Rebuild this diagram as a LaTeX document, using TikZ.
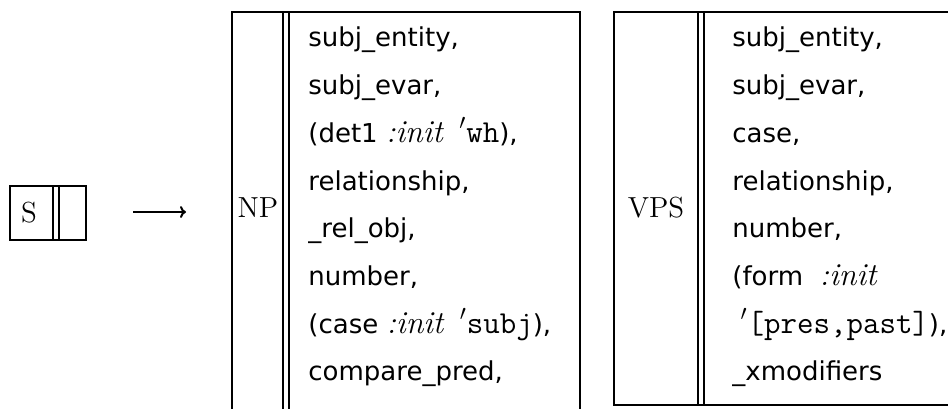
\documentclass[tikz,border=0pt]{standalone}
\usepackage{fontspec}
\newfontfamily\listfont{DejaVu Sans}
\usetikzlibrary{arrows.meta}

\tikzset{
  frame/.style={line width=1.1pt},
  slot/.style={line width=0.7pt},
  entry/.style={anchor=base west, inner sep=0pt, font=\listfont\fontsize{13}{15}\selectfont},
  boxname/.style={inner sep=0pt, font=\fontsize{14.5}{17}\selectfont},
}
\newcommand{\initkw}{{\rmfamily\itshape\fontsize{16}{18}\selectfont :init}}
\newcommand{\quoted}[1]{{\fontsize{16}{18}\selectfont$'$\ttfamily #1}}

\begin{document}
\begin{tikzpicture}[x=0.5pt,y=0.5pt]
    \useasboundingbox (0,0) rectangle (948,408);

    % Draw the S box with its empty slot
    \draw[frame] (10,168) rectangle (86,222);
    \draw[slot] (53,168) -- (53,222);
    \draw[slot] (59,168) -- (59,222);
    \node[boxname] (s) at (29,195) {S};

    % Rewrite arrow
    \coordinate (arrowfrom) at (133,196);
    \coordinate (arrowto) at (186,196);
    \draw[line width=1pt, -{To[length=3pt,width=6pt]}] (arrowfrom) -- (arrowto);

    % NP box, open at the bottom
    \draw[frame] (232,-5) -- (232,396) -- (580,396) -- (580,-5);
    \draw[slot] (283,-5) -- (283,396);
    \draw[slot] (289,-5) -- (289,396);
    \node[boxname] (np) at (258,200) {NP};

    % VPS box, open at the right
    \draw[frame] (955,3) -- (614,3) -- (614,396) -- (955,396);
    \draw[slot] (698,3) -- (698,396);
    \draw[slot] (704,3) -- (704,396);
    \node[boxname] (vps) at (656,200) {VPS};

    % Features of NP
    \foreach \txt [count=\i] in {{subj\_entity,}, {subj\_evar,},
        {(det1 \initkw\ \ \quoted{wh}),}, {relationship,}, {\_rel\_obj,},
        {number,}, {(case \initkw\ \ \quoted{subj}),}, {compare\_pred,}} {
        \node[entry] (np\i) at (308,361-47.7*\i+47.7) {\txt};
    }

    % Features of VPS
    \foreach \txt [count=\i] in {{subj\_entity,}, {subj\_evar,}, {case,},
        {relationship,}, {number,}, {(form \ \initkw},
        {\ \quoted{[pres,past]}),}, {\_xmodifiers}} {
        \node[entry] (vps\i) at (732,361-47.7*\i+47.7) {\txt};
    }

\end{tikzpicture}
\end{document}
